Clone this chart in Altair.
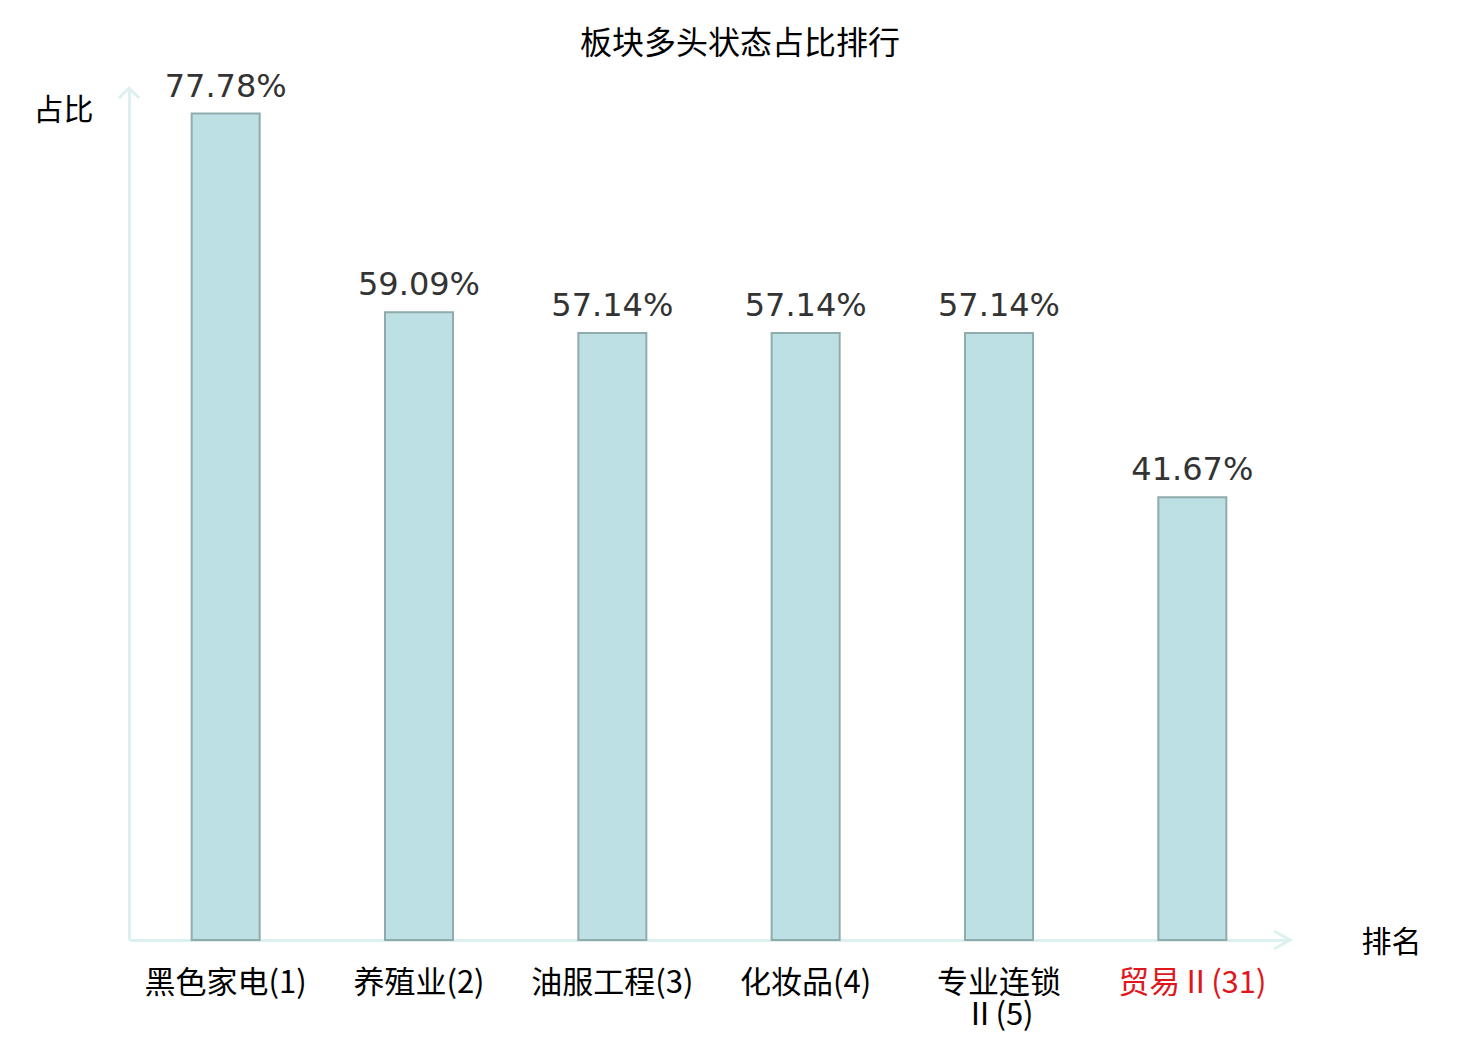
import altair as alt
import pandas as pd

categories = ["黑色家电(1)", "养殖业(2)", "油服工程(3)", "化妆品(4)", "专业连锁\nⅡ(5)", "贸易Ⅱ(31)"]
values = [77.78, 59.09, 57.14, 57.14, 57.14, 41.67]
labels = ["77.78%", "59.09%", "57.14%", "57.14%", "57.14%", "41.67%"]

df = pd.DataFrame({"cat": categories, "val": values, "lab": labels})

W, H = 1160, 850
AXIS_COLOR = "#dcf1ef"
CJK = "Noto Sans CJK SC"

x_enc = alt.X(
    "cat:N",
    sort=categories,
    scale=alt.Scale(paddingInner=0, paddingOuter=0),
    axis=alt.Axis(
        title="排名",
        titleAngle=0,
        titleX=W + 102,
        titleY=2,
        titleAlign="center",
        titleBaseline="middle",
        titleFont=CJK,
        titleFontSize=30,
        titleFontWeight="normal",
        titleColor="#000000",
        labelAngle=0,
        labelFont=CJK,
        labelFontWeight="normal",
        labelFontSize=31,
        labelLineHeight=32,
        labelPadding=28,
        labelBaseline="top",
        labelColor={"condition": {"test": "datum.value == '贸易Ⅱ(31)'", "value": "#e0161c"}, "value": "#000000"},
        labelExpr="split(datum.label, '\\n')",
        ticks=False,
        domainColor=AXIS_COLOR,
        domainWidth=3,
        grid=False,
    ),
)

y_enc = alt.Y(
    "val:Q",
    scale=alt.Scale(domain=[0, 80], nice=False),
    axis=alt.Axis(
        title="占比",
        titleAngle=0,
        titleX=-66,
        titleY=20,
        titleAlign="center",
        titleBaseline="middle",
        titleFont=CJK,
        titleFontSize=30,
        titleFontWeight="normal",
        titleColor="#000000",
        labels=False,
        ticks=False,
        domainColor=AXIS_COLOR,
        domainWidth=3,
        grid=False,
    ),
)

base = alt.Chart(df)

bars = base.mark_bar(size=68, color="#bce0e3", stroke="#8fabab", strokeWidth=2).encode(x=x_enc, y=y_enc)

text = base.mark_text(
    baseline="bottom", dy=-10, font="DejaVu Sans", fontSize=32, color="#333333"
).encode(x=alt.X("cat:N", sort=categories), y="val:Q", text="lab:N")

arrow_df = pd.DataFrame({"k": ["y", "x"]})
y_arrow = alt.Chart(arrow_df).transform_filter("datum.k == 'y'").mark_point(
    shape="M -1 1 L 0 0 L 1 1", filled=False, stroke=AXIS_COLOR, strokeWidth=3, size=400, opacity=1
).encode(x=alt.value(0), y=alt.value(-2))
x_arrow = alt.Chart(arrow_df).transform_filter("datum.k == 'x'").mark_point(
    shape="M -1 -0.56 L 0 0 L -1 0.56", filled=False, stroke=AXIS_COLOR, strokeWidth=3, size=1024, opacity=1
).encode(x=alt.value(W + 1), y=alt.value(H))

chart = (
    alt.layer(bars, text, y_arrow, x_arrow)
    .properties(
        width=W,
        height=H,
        background="#ffffff",
        title=alt.TitleParams(
            "板块多头状态占比排行",
            font=CJK,
            fontSize=32,
            fontWeight="normal",
            color="#000000",
            anchor="middle",
            dx=31,
            offset=10,
        ),
        autosize=alt.AutoSizeParams(type="none"),
        padding={"left": 121, "top": 82, "right": 170, "bottom": 92},
    )
    .configure_view(strokeWidth=0, stroke=None)
)

chart.save("out.html", embed_options={"renderer": "svg", "actions": False})
